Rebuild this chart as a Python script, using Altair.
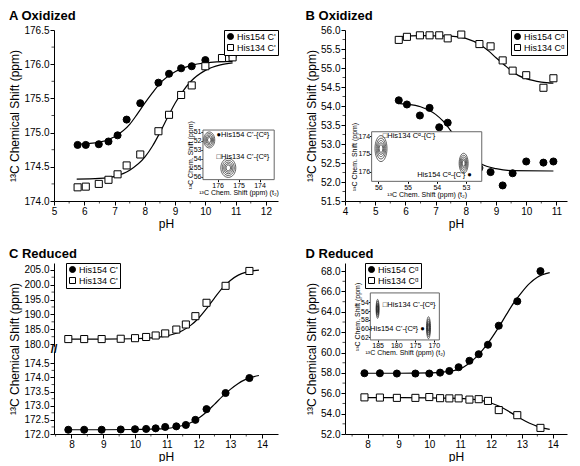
import altair as alt
import pandas as pd

FONT = "Liberation Sans"
W1, W2, H = 224, 222, 171

# ---------------- Panel A (Oxidized, C') ----------------
A_PH = [5.78, 6.05, 6.48, 6.8, 7.1, 7.4, 7.85, 8.45, 8.8, 9.2, 9.55, 10.0, 10.55, 10.9]
A_H154 = [174.82, 174.82, 174.83, 174.87, 174.96, 175.19, 175.43, 175.73, 175.86, 175.94, 175.97, 176.06, 176.09, 176.11]
A_H134 = [174.20, 174.21, 174.25, 174.31, 174.39, 174.52, 174.68, 175.02, 175.26, 175.55, 175.69, 175.97, 176.09, 176.10]
A_FIT154_PH = [5.75, 6.5, 7.0, 7.5, 7.75, 8.0, 8.25, 8.5, 9.0, 9.5, 10.0, 10.9]
A_FIT154 = [174.83, 174.86, 174.94, 175.12, 175.27, 175.43, 175.58, 175.72, 175.89, 175.98, 176.02, 176.04]
A_FIT134_PH = [5.75, 6.5, 7.0, 7.5, 8.0, 8.25, 8.5, 8.75, 9.0, 9.25, 9.5, 10.0, 10.5, 10.9]
A_FIT134 = [174.32, 174.33, 174.36, 174.45, 174.64, 174.8, 175.0, 175.22, 175.43, 175.6, 175.74, 175.91, 175.99, 176.02]
A_NAMES = ["His154 C'", "His134 C'"]
A_XTICKS = [5, 6, 7, 8, 9, 10, 11, 12]
A_YTICKS = [174.0, 174.5, 175.0, 175.5, 176.0, 176.5]

# ---------------- Panel B (Oxidized, C-alpha) ----------------
B_PH = [5.78, 6.05, 6.48, 6.8, 7.12, 7.4, 7.85, 8.45, 8.82, 9.22, 9.55, 10.0, 10.57, 10.9]
B_H154 = [54.15, 54.04, 53.75, 53.95, 53.44, 53.56, 52.94, 52.37, 52.26, 51.91, 52.23, 52.54, 52.51, 52.54]
B_H134 = [55.74, 55.82, 55.86, 55.86, 55.86, 55.78, 55.88, 55.63, 55.57, 55.20, 54.93, 54.81, 54.48, 54.73]
B_FIT154_PH = [5.75, 6.0, 6.5, 7.0, 7.25, 7.5, 7.75, 8.0, 8.25, 8.5, 9.0, 9.5, 10.9]
B_FIT154 = [54.07, 54.05, 53.98, 53.78, 53.6, 53.35, 53.08, 52.82, 52.62, 52.48, 52.35, 52.30, 52.29]
B_FIT134_PH = [5.75, 6.5, 7.5, 8.0, 8.5, 8.75, 9.0, 9.25, 9.5, 9.75, 10.0, 10.5, 10.9]
B_FIT134 = [55.82, 55.85, 55.84, 55.78, 55.6, 55.45, 55.27, 55.1, 54.93, 54.8, 54.72, 54.63, 54.6]
B_NAMES = ["His154 C\u1d45", "His134 C\u1d45"]
B_XTICKS = [4, 5, 6, 7, 8, 9, 10, 11]
B_YTICKS = [51.5, 52.0, 52.5, 53.0, 53.5, 54.0, 54.5, 55.0, 55.5, 56.0]

# ---------------- Panel C (Reduced, C', broken axis) ----------------
R_PH = [7.9, 8.4, 8.95, 9.55, 10.0, 10.35, 10.65, 10.95, 11.3, 11.6, 11.9, 12.25, 12.85, 13.6]
C_H154 = [172.15, 172.15, 172.15, 172.16, 172.17, 172.18, 172.2, 172.25, 172.27, 172.32, 172.5, 172.88, 173.45, 173.98]
C_H134 = [181.7, 181.7, 181.7, 181.8, 182.0, 182.4, 182.9, 183.6, 184.9, 186.6, 189.4, 193.9, 199.6, 204.6]
R_FIT_PH = [7.9, 9.0, 10.0, 10.5, 11.0, 11.25, 11.5, 11.75, 12.0, 12.25, 12.5, 12.75, 13.0, 13.25, 13.5, 13.9]
C_FIT154 = [172.15, 172.15, 172.16, 172.17, 172.2, 172.24, 172.3, 172.4, 172.56, 172.78, 173.05, 173.33, 173.58, 173.79, 173.94, 174.07]
C_FIT134 = [181.7, 181.7, 181.8, 182.1, 182.8, 183.5, 184.6, 186.3, 188.7, 191.9, 195.5, 198.8, 201.4, 203.2, 204.2, 204.9]
C_XTICKS = [8, 9, 10, 11, 12, 13, 14]
C_YTICKS = [172.0, 172.5, 173.0, 173.5, 174.0, 174.5, 180.0, 185.0, 190.0, 195.0, 200.0, 205.0]
C_YMINOR = [172.25, 172.75, 173.25, 173.75, 174.25, 182.5, 187.5, 192.5, 197.5, 202.5]
C_BREAK = [175.0]

# ---------------- Panel D (Reduced, C-alpha) ----------------
D_H154 = [57.97, 57.97, 57.94, 57.94, 57.94, 58.03, 58.19, 58.56, 59.19, 59.84, 60.77, 62.64, 65.04, 68.0]
D_H134 = [55.6, 55.58, 55.55, 55.55, 55.63, 55.52, 55.5, 55.5, 55.38, 55.42, 55.25, 54.35, 53.85, 52.6]
D_FIT154 = [57.97, 57.97, 58.0, 58.1, 58.4, 58.85, 59.5, 60.35, 61.35, 62.5, 63.75, 64.95, 65.95, 66.8, 67.4, 67.85]
D_FIT134 = [55.58, 55.57, 55.55, 55.53, 55.5, 55.45, 55.38, 55.25, 55.05, 54.75, 54.35, 53.9, 53.45, 53.05, 52.75, 52.45]
D_YTICKS = [52.0, 54.0, 56.0, 58.0, 60.0, 62.0, 64.0, 66.0, 68.0]

# ---------------- Insets (2D NMR spectra) ----------------
INS_A_X = [173.3, 176.7]
INS_A_Y = [50.8, 56.3]
INS_A_XT = [176, 175, 174]
INS_A_YT = [51, 52, 53, 54, 55, 56]
INS_A_PEAKS = [(176.40, 51.9), (175.49, 55.0)]
INS_A_LABELS = [("\u25cfHis154 C'-{C\u1d45}", 176.05, 51.3, "left"),
                ("\u25a1His134 C'-{C\u1d45}", 176.05, 53.75, "left")]

INS_B_X = [52.46, 56.23]
INS_B_Y = [173.75, 176.55]
INS_B_XT = [56, 55, 54, 53]
INS_B_YT = [174, 175, 176]
INS_B_PEAKS = [(55.91, 174.7), (53.08, 175.53)]
INS_B_LABELS = [("\u25a1His134 C\u1d45-{C'}", 55.85, 173.98, "left"),
                ("His154 C\u1d45-{C'} \u25cf", 52.8, 176.2, "right")]

INS_D_X = [168.5, 186.95]
INS_D_Y = [51.85, 62.6]
INS_D_XT = [185, 180, 175, 170]
INS_D_YT = [54, 56, 58, 60, 62]
INS_D_PEAKS = [(185.0, 55.5), (171.4, 59.8)]
INS_D_LABELS = [("\u25a1His134 C'-{C\u1d45}", 183.6, 54.7, "left"),
                ("His154 C'-{C\u1d45} \u25cf", 172.4, 60.2, "right")]

LEVELS = [1.0, 0.8, 0.62, 0.45, 0.3]


def c_map(v):
    return v if v < 177 else 175.18 + (v - 180.0) * 0.1052


def inset_layer(W, frac, xdom, ydom, xt, yt, peaks, peak_dims, labels):
    x0, x1 = frac[0] * W, frac[1] * W
    y0, y1 = frac[2] * H, frac[3] * H
    ixs = alt.Scale(domain=xdom, range=[x1, x0], nice=False, zero=False)
    iys = alt.Scale(domain=ydom, range=[y0, y1], nice=False, zero=False)
    ax_common = dict(labelFontSize=7, titleFontSize=7, tickSize=2, domain=False,
                     labelPadding=0, titlePadding=0, grid=False, format="d",
                     titleFontWeight="normal", labelFont=FONT, titleFont=FONT)
    ixaxis = alt.Axis(orient="bottom", offset=-(H - y1), values=xt,
                      title="\u00b9\u00b3C Chem. Shift (ppm) (t\u2082)", **ax_common)
    iyaxis = alt.Axis(orient="left", offset=-x0, values=yt,
                      title="\u00b9\u00b3C Chem. Shift (ppm)", **ax_common)
    frame_df = pd.DataFrame({"x": [xdom[0]], "b": [xdom[1]], "y": [ydom[0]], "d": [ydom[1]]})
    layers = [alt.Chart(frame_df).mark_rect(fill="white", stroke="#666", strokeWidth=1).encode(
        x=alt.X("x:Q", scale=ixs, axis=ixaxis), x2="b",
        y=alt.Y("y:Q", scale=iys, axis=iyaxis), y2="d")]
    for (px, py), (bw, bh) in zip(peaks, peak_dims):
        a = bw / bh
        path = f"M0,-1A{a:.3f},1 0 1,1 0,1A{a:.3f},1 0 1,1 0,-1Z"
        df = pd.DataFrame({"x": [px] * len(LEVELS), "y": [py] * len(LEVELS),
                           "s": [(bh * l) ** 2 for l in LEVELS]})
        layers.append(alt.Chart(df).mark_point(shape=path, filled=False, stroke="#222",
                                               strokeWidth=0.7, opacity=1).encode(
            x=alt.X("x:Q", scale=ixs, axis=ixaxis), y=alt.Y("y:Q", scale=iys, axis=iyaxis),
            size=alt.Size("s:Q", scale=None)))
    for (t, lx, ly, al) in labels:
        df = pd.DataFrame({"x": [lx], "y": [ly], "t": [t]})
        layers.append(alt.Chart(df).mark_text(align=al, baseline="middle", fontSize=7.5,
                                              font=FONT, color="black").encode(
            x=alt.X("x:Q", scale=ixs, axis=ixaxis), y=alt.Y("y:Q", scale=iys, axis=iyaxis),
            text="t:N"))
    return alt.layer(*layers)


def panel(title, W, ph, v154, v134, f154x, f154y, f134x, f134y, names, xdom, ydom,
          xvals, yvals, xminor, yminor, legend_kw, yfmt=".1f", ylabel_expr=None,
          inset=None, extra=None):
    pts_df = pd.DataFrame({"pH": list(ph) * 2, "v": list(v154) + list(v134),
                           "series": [names[0]] * len(ph) + [names[1]] * len(ph)})
    fit_df = pd.DataFrame({"pH": list(f154x) + list(f134x), "v": list(f154y) + list(f134y),
                           "series": [names[0]] * len(f154x) + [names[1]] * len(f134x)})
    xs = alt.Scale(domain=xdom, nice=False, zero=False)
    ys = alt.Scale(domain=ydom, nice=False, zero=False)
    xaxis = alt.Axis(values=xvals, format="d", title="pH", labelFlush=False)
    yargs = dict(values=yvals, title="\u00b9\u00b3C Chemical Shift (ppm)", format=yfmt)
    if ylabel_expr:
        yargs["labelExpr"] = ylabel_expr
    yaxis = alt.Axis(**yargs)
    lines = alt.Chart(fit_df).mark_line(color="black", strokeWidth=1.2, interpolate="monotone").encode(
        x=alt.X("pH:Q", scale=xs, axis=xaxis), y=alt.Y("v:Q", scale=ys, axis=yaxis),
        detail="series:N")
    leg = alt.Legend(title=None, strokeColor="black", padding=2, labelFontSize=9, labelFont=FONT,
                     symbolSize=36, symbolStrokeColor="black", symbolStrokeWidth=1, rowPadding=0,
                     labelOffset=2, fillColor="white", labelColor="black", **legend_kw)
    pts = alt.Chart(pts_df).mark_point(filled=True, stroke="black", strokeWidth=1, size=50, opacity=1).encode(
        x=alt.X("pH:Q", scale=xs, axis=xaxis), y=alt.Y("v:Q", scale=ys, axis=yaxis),
        shape=alt.Shape("series:N", scale=alt.Scale(domain=names, range=["circle", "square"]), legend=leg),
        fill=alt.Fill("series:N", scale=alt.Scale(domain=names, range=["black", "white"]), legend=leg),
        stroke=alt.Stroke("series:N", scale=alt.Scale(domain=names, range=["black", "black"]), legend=leg))
    ymin = alt.Chart(pd.DataFrame({"v": yminor})).mark_tick(orient="horizontal", size=2.5, thickness=1,
                                                             color="black").encode(
        y=alt.Y("v:Q", scale=ys, axis=yaxis), x=alt.value(-1.25))
    xmin = alt.Chart(pd.DataFrame({"pH": xminor})).mark_tick(orient="vertical", size=2.5, thickness=1,
                                                              color="black").encode(
        x=alt.X("pH:Q", scale=xs, axis=xaxis), y=alt.value(H + 1.25))
    main_layers = [lines, pts, ymin, xmin]
    if extra is not None:
        main_layers = main_layers + extra(ys, yaxis)
    main = alt.layer(*main_layers)
    parts = [main]
    if inset is not None:
        parts.append(inset)
    ch = alt.layer(*parts)
    if inset is not None:
        ch = ch.resolve_scale(x="independent", y="independent")
    return ch.properties(
        width=W, height=H,
        title=alt.TitleParams(text=title, anchor="start", frame="bounds", fontSize=13,
                              fontWeight="bold", font=FONT, offset=2, color="black"))


def half_steps(a, b):
    out = []
    v = a
    while v < b:
        out.append(v)
        v += 1.0
    return out


insA = inset_layer(W1, [0.665, 0.983, 0.585, 0.875], INS_A_X, INS_A_Y, INS_A_XT, INS_A_YT,
                   INS_A_PEAKS, [(11, 16), (15, 19)], INS_A_LABELS)
insB = inset_layer(W2, [0.12, 0.616, 0.595, 0.885], INS_B_X, INS_B_Y, INS_B_XT, INS_B_YT,
                   INS_B_PEAKS, [(12, 26), (9, 20)], INS_B_LABELS)
insD = inset_layer(W2, [0.114, 0.425, 0.175, 0.45], INS_D_X, INS_D_Y, INS_D_XT, INS_D_YT,
                   INS_D_PEAKS, [(3, 19), (4, 22)], INS_D_LABELS)

pA = panel("A  Oxidized", W1, A_PH, A_H154, A_H134, A_FIT154_PH, A_FIT154, A_FIT134_PH, A_FIT134,
           A_NAMES, [5, 12.4], [174.0, 176.5], A_XTICKS, A_YTICKS,
           half_steps(5.5, 12.0), [174.25, 174.75, 175.25, 175.75, 176.25],
           dict(orient="top-right", offset=0), inset=insA)

pB = panel("B  Oxidized", W2, B_PH, B_H154, B_H134, B_FIT154_PH, B_FIT154, B_FIT134_PH, B_FIT134,
           B_NAMES, [4, 11.35], [51.5, 56.0], B_XTICKS, B_YTICKS,
           half_steps(4.5, 11.0), [51.75 + 0.5 * i for i in range(9)],
           dict(orient="top-right", offset=0), inset=insB)


def c_break(ys, yaxis):
    df = pd.DataFrame({"v": C_BREAK})
    gap = alt.Chart(df).mark_tick(orient="vertical", size=5, thickness=4, color="white").encode(
        y=alt.Y("v:Q", scale=ys, axis=yaxis), x=alt.value(0))
    mark = alt.Chart(df).mark_text(text="//", fontSize=12, font=FONT, color="black",
                                   fontWeight="bold").encode(
        y=alt.Y("v:Q", scale=ys, axis=yaxis), x=alt.value(0))
    return [gap, mark]


c_expr = ("datum.value > 175 ? format(180 + (datum.value - 175.18) / 0.1052, '.1f') "
          ": format(datum.value, '.1f')")
pC = panel("C  Reduced", W1, R_PH, [c_map(v) for v in C_H154], [c_map(v) for v in C_H134],
           R_FIT_PH, [c_map(v) for v in C_FIT154], R_FIT_PH, [c_map(v) for v in C_FIT134],
           A_NAMES, [7.45, 14.5], [172.0, 178.05], C_XTICKS, [c_map(v) for v in C_YTICKS],
           half_steps(7.5, 14.0), [c_map(v) for v in C_YMINOR],
           dict(orient="none", legendX=12, legendY=0), ylabel_expr=c_expr, extra=c_break)

pD = panel("D  Reduced", W2, R_PH, D_H154, D_H134, R_FIT_PH, D_FIT154, R_FIT_PH, D_FIT134,
           B_NAMES, [7.27, 14.46], [52.0, 68.8], C_XTICKS, D_YTICKS,
           half_steps(7.5, 14.0), [53.0 + 2 * i for i in range(8)],
           dict(orient="none", legendX=20, legendY=0), inset=insD)

chart = alt.concat(pA, pB, pC, pD, columns=2, spacing={"row": 18, "column": 26}).resolve_scale(
    x="independent", y="independent", shape="independent", fill="independent", stroke="independent"
).resolve_legend(shape="independent", fill="independent", stroke="independent").properties(
    padding={"left": 0, "top": 2, "right": 0, "bottom": 0}
).configure_view(stroke=None).configure_axis(
    grid=False, domainColor="black", tickColor="black", labelColor="black", titleColor="black",
    labelFont=FONT, titleFont=FONT, labelFontSize=10, titleFontSize=12, titleFontWeight="normal",
    tickSize=4, labelPadding=1, titlePadding=2
)

chart.save("out.html", embed_options={"renderer": "svg", "actions": False})
